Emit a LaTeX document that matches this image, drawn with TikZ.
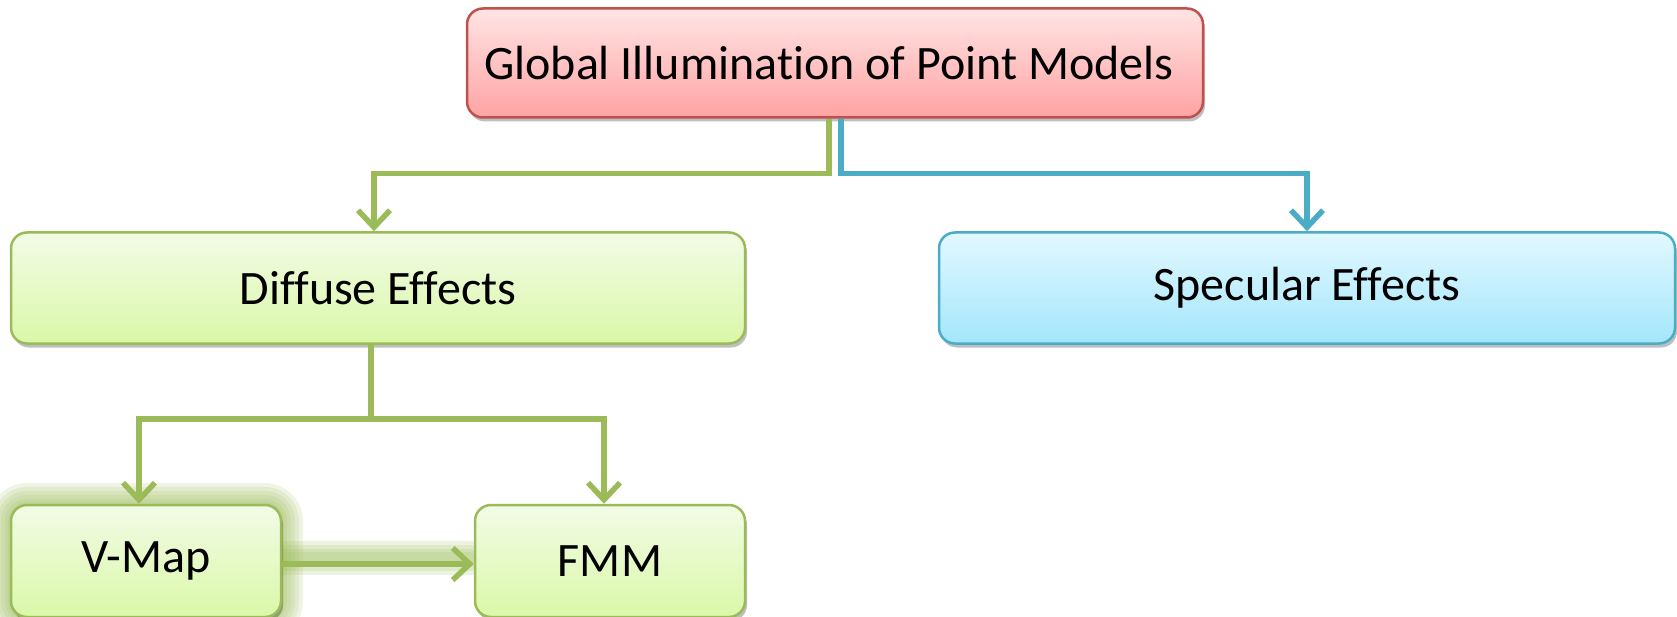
\documentclass[tikz,border=0pt]{standalone}
\usepackage{fontspec}
\setmainfont[RawFeature=-liga]{Carlito}
\usetikzlibrary{arrows.meta,shadows,calc}
\definecolor{redtop}{RGB}{255,228,228}
\definecolor{redbot}{RGB}{255,163,163}
\definecolor{redline}{RGB}{192,80,77}
\definecolor{grtop}{RGB}{242,251,230}
\definecolor{grbot}{RGB}{218,248,168}
\definecolor{grline}{RGB}{155,187,89}
\definecolor{bltop}{RGB}{226,248,255}
\definecolor{blbot}{RGB}{164,230,252}
\definecolor{blline}{RGB}{75,172,198}
\tikzset{
  box/.style={draw, line width=2.5pt, rounded corners=16pt, inner sep=0pt,
    font=\fontsize{48}{56}\selectfont, text=black,
    drop shadow={shadow xshift=2pt, shadow yshift=-4pt, opacity=0.25, fill=black}},
  redbox/.style={box, draw=redline, top color=redtop, bottom color=redbot},
  grbox/.style={box, draw=grline, top color=grtop, bottom color=grbot},
  blbox/.style={box, draw=blline, top color=bltop, bottom color=blbot},
  conn/.style={line width=5.5pt, -{Straight Barb[length=17pt,width=32pt,line width=5.5pt]}},
  gconn/.style={conn, draw=grline},
  bconn/.style={conn, draw=blline},
}
\begin{document}
\begin{tikzpicture}[x=1pt,y=-1pt]
\useasboundingbox (0,0) rectangle (1677,617);
% glow around V-Map
\foreach \g in {22,18,14,10,6,3}{
  \fill[grline, opacity=0.16, rounded corners=16pt+\g pt] (11-\g,505-\g) rectangle (281+\g,617+\g);
}
\foreach \w in {34,26,18,12}{
  \draw[grline, opacity=0.18, line width=\w pt, line cap=round] (281,558) -- (470,558);
}
\node[redbox, minimum width=736pt, minimum height=109pt] (top) at (835,63) {\hspace*{-12pt}Global Illumination of Point Models};
\node[grbox, minimum width=734pt, minimum height=111pt] (diff) at (378,288) {Diffuse Effects};
\node[blbox, minimum width=736pt, minimum height=111pt] (spec) at (1307,288) {Specular Effects};
\node[grbox, minimum width=270pt, minimum height=112pt] (vmap) at (146,561) {V-Map};
\node[grbox, minimum width=270pt, minimum height=112pt] (fmm) at (610,561) {FMM};
\draw[gconn] ([xshift=-6pt]top.south) -- ++(0,55) -| ([xshift=-4pt]diff.north);
\draw[bconn] ([xshift=6pt]top.south) -- ++(0,55) -| (spec.north);
\draw[gconn] ([xshift=-7pt]diff.south) -- ++(0,74) -| ([xshift=-7pt]vmap.north);
\draw[gconn] ([xshift=-7pt]diff.south) -- ++(0,74) -| ([xshift=-6pt]fmm.north);
\draw[gconn] ([yshift=-3pt]vmap.east) -- ([yshift=-3pt]fmm.west);
\end{tikzpicture}
\end{document}
